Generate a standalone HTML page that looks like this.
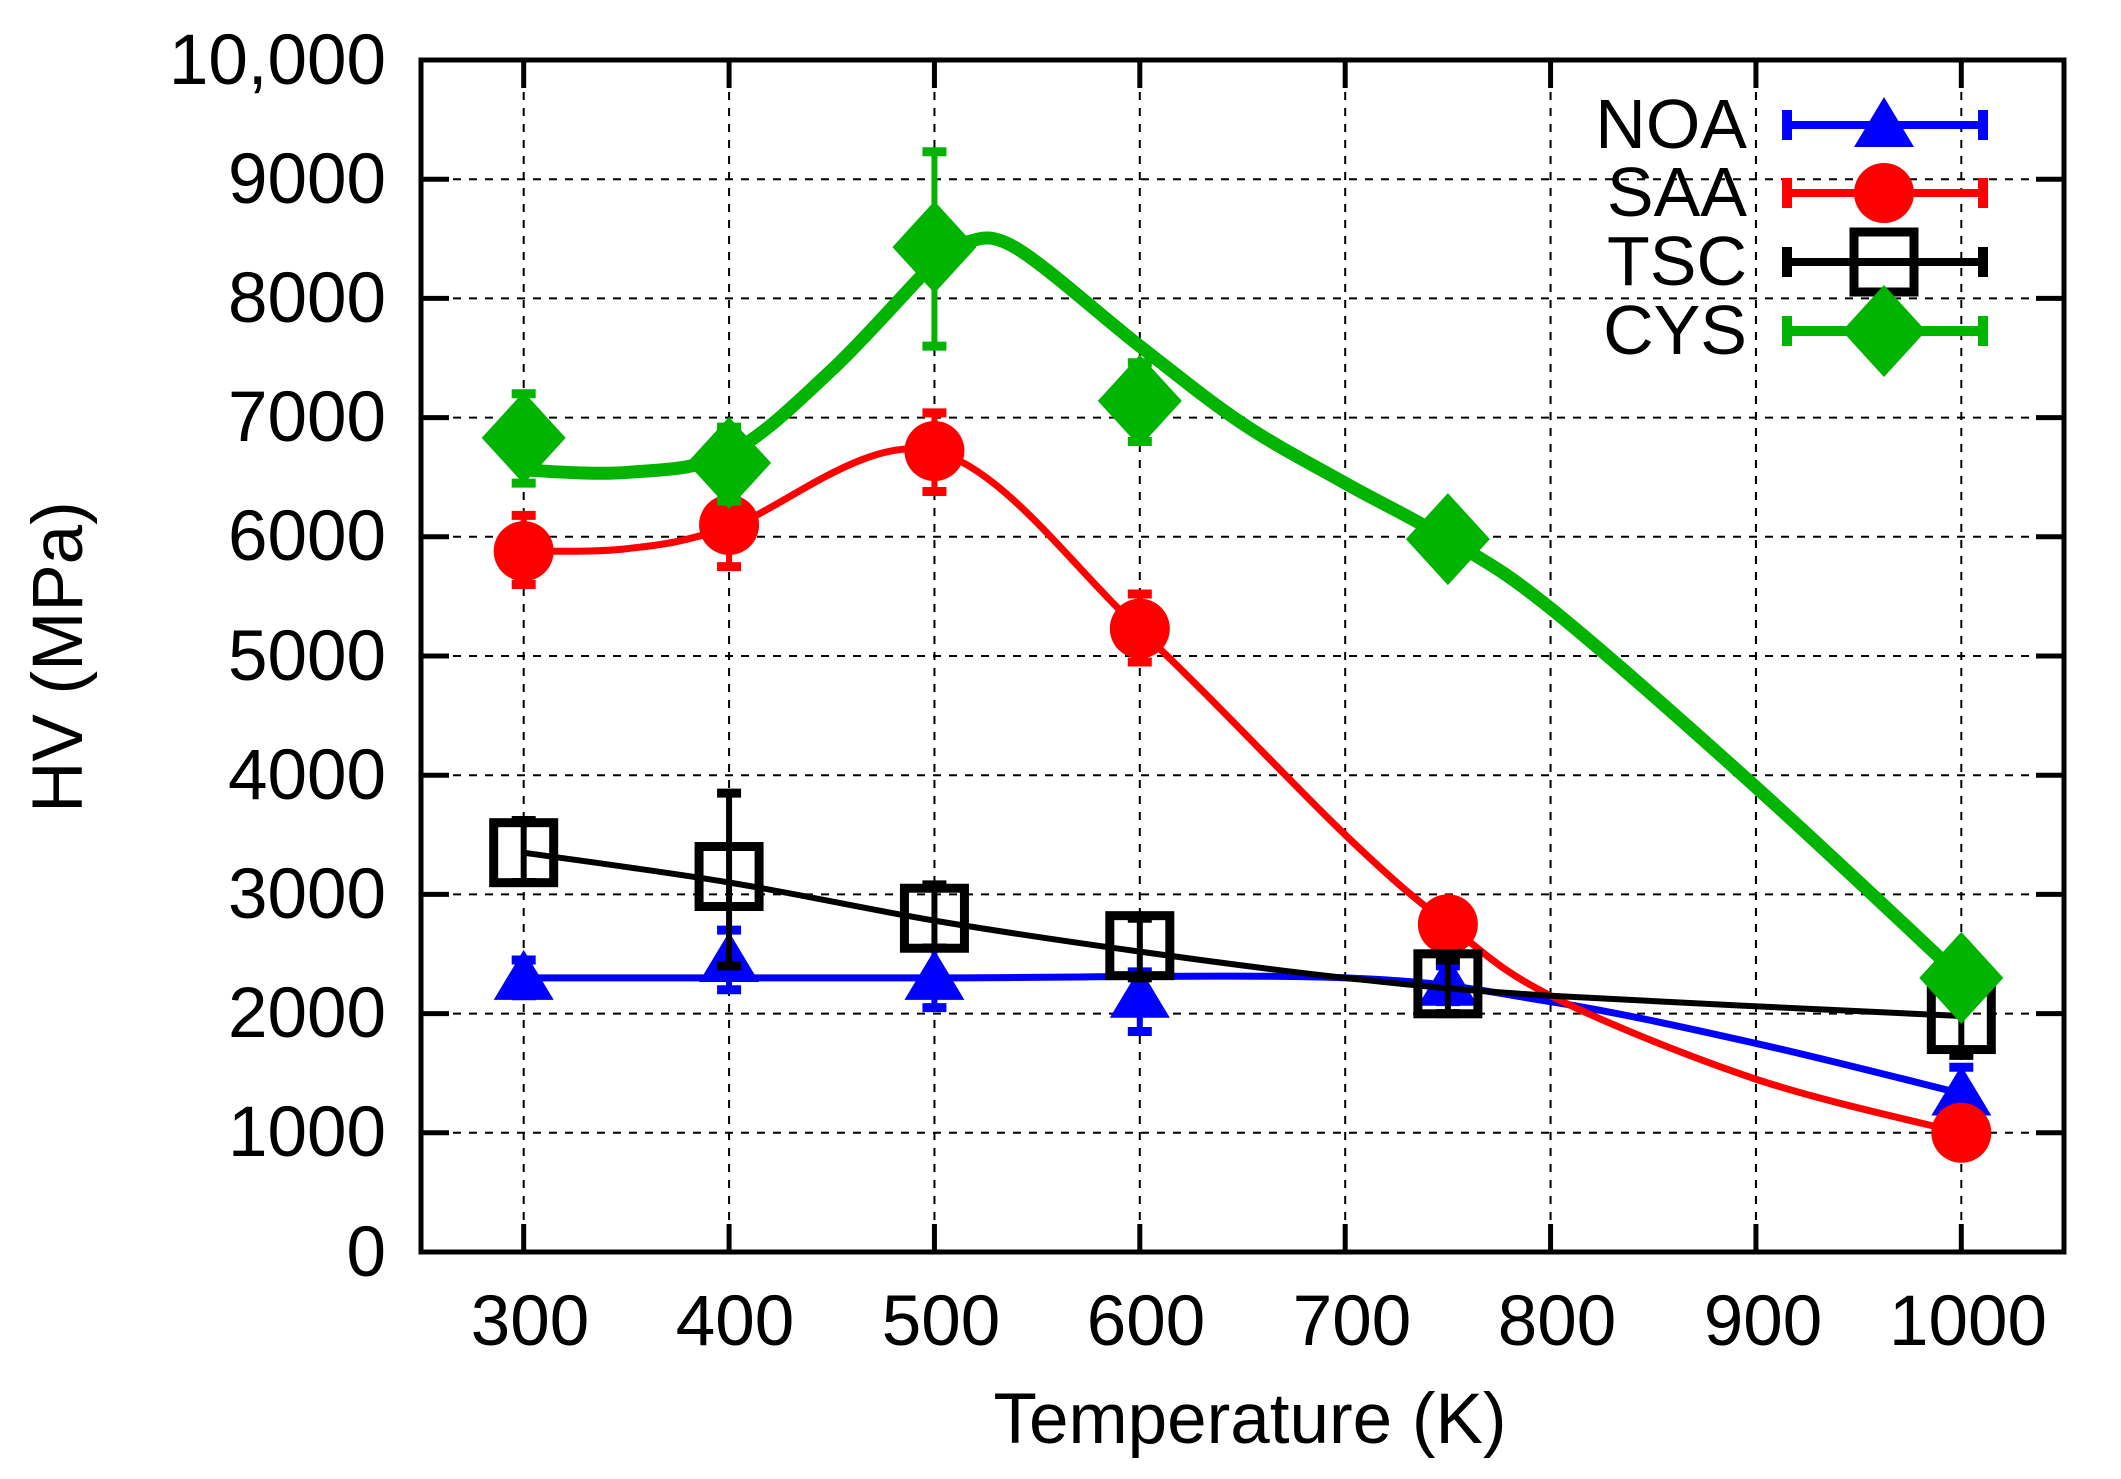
<!DOCTYPE html>
<html><head><meta charset="utf-8"><style>
html,body{margin:0;padding:0;background:#fff;}
svg{display:block;}
text{font-family:"Liberation Sans",sans-serif;fill:#000;}
</style></head><body>
<svg id="s" width="2121" height="1479" viewBox="0 0 2121 1479" xmlns="http://www.w3.org/2000/svg">
<g id="grid"></g>
<g font-size="71" text-anchor="end">
<text x="386" y="84">10,000</text>
<text x="386" y="203">9000</text>
<text x="386" y="322">8000</text>
<text x="386" y="441">7000</text>
<text x="386" y="560">6000</text>
<text x="386" y="680">5000</text>
<text x="386" y="799">4000</text>
<text x="386" y="918">3000</text>
<text x="386" y="1037">2000</text>
<text x="386" y="1156">1000</text>
<text x="386" y="1276">0</text>
</g>
<g font-size="71" text-anchor="middle">
<text x="530" y="1345">300</text>
<text x="735" y="1345">400</text>
<text x="941" y="1345">500</text>
<text x="1146" y="1345">600</text>
<text x="1352" y="1345">700</text>
<text x="1557" y="1345">800</text>
<text x="1763" y="1345">900</text>
<text x="1968" y="1345">1000</text>
<text x="1250" y="1443">Temperature (K)</text>
<text transform="translate(82,657) rotate(-90)">HV (MPa)</text>
</g>
<g font-size="70" text-anchor="end">
<text x="1747" y="148">NOA</text>
<text x="1747" y="216">SAA</text>
<text x="1747" y="285">TSC</text>
<text x="1747" y="354">CYS</text>
</g>
<g id="data"></g>
<rect x="421" y="60" width="1643" height="1192" fill="none" stroke="#000" stroke-width="5"/>
</svg>
<script>
var NS="http://www.w3.org/2000/svg";
function X(t){return 421+(t-250)*1643/800;}
function Y(v){return 1252-v*0.1192;}
function el(p,n,a){var e=document.createElementNS(NS,n);for(var k in a)e.setAttribute(k,a[k]);p.appendChild(e);return e;}
var g=document.getElementById('grid'),d=document.getElementById('data');
for(var t=300;t<=1000;t+=100){el(g,'line',{x1:X(t),x2:X(t),y1:60,y2:1252,stroke:'#000','stroke-width':2,'stroke-dasharray':'8,8'});
el(g,'line',{x1:X(t),x2:X(t),y1:1252,y2:1224,stroke:'#000','stroke-width':5});el(g,'line',{x1:X(t),x2:X(t),y1:60,y2:88,stroke:'#000','stroke-width':5});}
for(var v=1000;v<=9000;v+=1000){el(g,'line',{x1:421,x2:2064,y1:Y(v),y2:Y(v),stroke:'#000','stroke-width':2,'stroke-dasharray':'8,8'});}
for(var v=0;v<=10000;v+=1000){el(g,'line',{x1:421,x2:449,y1:Y(v),y2:Y(v),stroke:'#000','stroke-width':5});el(g,'line',{x1:2036,x2:2064,y1:Y(v),y2:Y(v),stroke:'#000','stroke-width':5});}
function spline(pts){var P=pts.map(function(p){return [X(p[0]),Y(p[1])];});var s='M'+P[0][0]+','+P[0][1];
for(var i=0;i<P.length-1;i++){var p0=P[i-1]||P[i],p1=P[i],p2=P[i+1],p3=P[i+2]||P[i+1];
s+=' C'+(p1[0]+(p2[0]-p0[0])/6)+','+(p1[1]+(p2[1]-p0[1])/6)+' '+(p2[0]-(p3[0]-p1[0])/6)+','+(p2[1]-(p3[1]-p1[1])/6)+' '+p2[0]+','+p2[1];}return s;}
function marker(type,x,y,c){
 if(type=='tri')el(d,'polygon',{points:(x-30)+','+(y+22)+' '+(x+30)+','+(y+22)+' '+x+','+(y-28),fill:c});
 if(type=='circ')el(d,'circle',{cx:x,cy:y,r:30,fill:c});
 if(type=='sq')el(d,'rect',{x:x-30,y:y-30,width:60,height:60,fill:'none',stroke:c,'stroke-width':9});
 if(type=='dia')el(d,'polygon',{points:(x-42)+','+y+' '+x+','+(y-46)+' '+(x+42)+','+y+' '+x+','+(y+46),fill:c});}
var S=[
{c:'#0000ff',w:7,m:'tri',curve:[[300,2300],[500,2300],[700,2300],[800,2100],[900,1750],[1000,1330]],
 pts:[[300,2300,2150,2450],[400,2450,2200,2700],[500,2300,2050,2550],[600,2150,1850,2350],[750,2250,2100,2400],[1000,1330,1150,1550]]},
{c:'#ff0000',w:7,m:'circ',curve:[[300,5880],[350,5900],[400,6080],[500,6720],[600,5220],[700,3500],[750,2750],[800,2150],[900,1450],[1000,1000]],
 pts:[[300,5880,5600,6180],[400,6100,5750,6450],[500,6720,6380,7040],[600,5230,4950,5520],[750,2750,2750,2750],[1000,1000,1000,1000]]},
{c:'#000000',w:6,m:'sq',curve:[[300,3350],[400,3100],[500,2780],[600,2520],[700,2300],[800,2150],[1000,1980]],
 pts:[[300,3350,3100,3620],[400,3150,2400,3850],[500,2800,2550,3080],[600,2570,2300,2800],[750,2250,2000,2450],[1000,1950,1650,2250]]},
{c:'#00b400',w:13,m:'dia',curve:[[300,6560],[350,6540],[400,6700],[450,7400],[500,8300],[515,8470],[540,8420],[600,7600],[650,6950],[700,6450],[750,5980],[800,5400],[900,3900],[1000,2300]],
 pts:[[300,6830,6450,7200],[400,6620,6300,6920],[500,8430,7600,9230],[600,7140,6800,7460],[750,5980,5980,5980],[1000,2300,2100,2500]]}];
S.forEach(function(s,k){
 el(d,'path',{d:spline(s.curve),fill:'none',stroke:s.c,'stroke-width':s.w});
 s.pts.forEach(function(p){var x=X(p[0]);if(p[2]!=p[3]){
  el(d,'line',{x1:x,x2:x,y1:Y(p[2]),y2:Y(p[3]),stroke:s.c,'stroke-width':6});
  el(d,'line',{x1:x-12,x2:x+12,y1:Y(p[2]),y2:Y(p[2]),stroke:s.c,'stroke-width':9});
  el(d,'line',{x1:x-12,x2:x+12,y1:Y(p[3]),y2:Y(p[3]),stroke:s.c,'stroke-width':9});}
  marker(s.m,x,Y(p[1]),s.c);});
 var ly=[125,193,262,331][k];
 el(d,'line',{x1:1787,x2:1983,y1:ly,y2:ly,stroke:s.c,'stroke-width':s.m=='dia'?10:8});
 el(d,'line',{x1:1787,x2:1787,y1:ly-15,y2:ly+15,stroke:s.c,'stroke-width':10});
 el(d,'line',{x1:1983,x2:1983,y1:ly-15,y2:ly+15,stroke:s.c,'stroke-width':10});
 marker(s.m,1884,ly,s.c);
});
</script>
</body></html>
